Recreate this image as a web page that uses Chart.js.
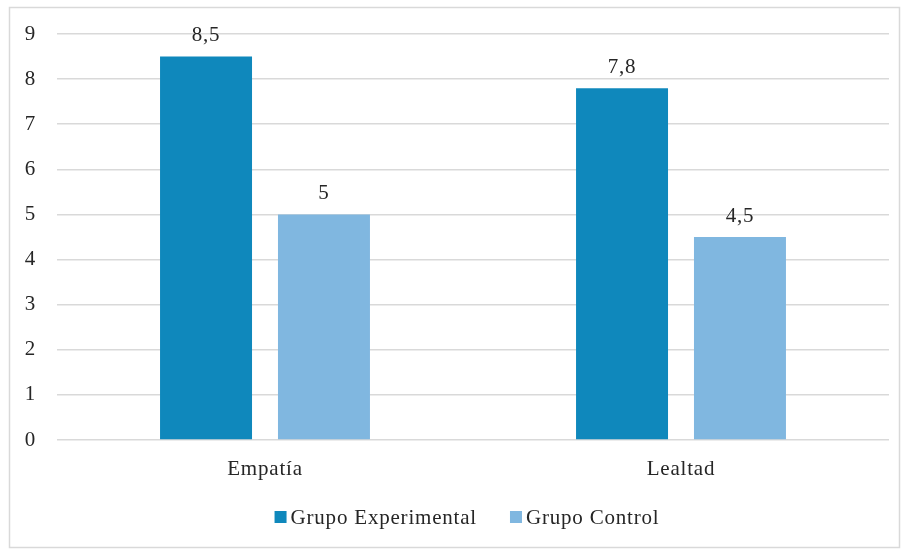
<!DOCTYPE html>
<html>
<head>
<meta charset="utf-8">
<script src="https://cdn.jsdelivr.net/npm/chart.js@4/dist/chart.umd.min.js"></script>
<style>
  html, body { margin: 0; padding: 0; background: #ffffff; }
  #wrap { position: relative; width: 904px; height: 550px; }
</style>
</head>
<body>
<div id="wrap"><canvas id="c" width="904" height="550"></canvas></div>
<script>
// Scores per dimension for each group
const categories = ['Empatía', 'Lealtad'];
const experimental = [8.5, 7.8];
const control = [5, 4.5];
const seriesNames = ['Grupo Experimental', 'Grupo Control'];
const yTicks = [0, 1, 2, 3, 4, 5, 6, 7, 8, 9];

const FONT = "'Liberation Serif', 'Times New Roman', serif";
const FONT_SIZE = 21;
const TEXT = '#262626';
const SPACING = '0.8px';

// Thin light frame around the whole figure; slightly open letter spacing for all text
const framePlugin = {
  id: 'frame',
  beforeDraw(chart) {
    const ctx = chart.ctx;
    ctx.save();
    ctx.fillStyle = '#ffffff';
    ctx.fillRect(0, 0, chart.width, chart.height);
    ctx.strokeStyle = '#d9d9d9';
    ctx.lineWidth = 1.5;
    ctx.strokeRect(9.5, 7.5, 890, 540);
    ctx.restore();
    ctx.letterSpacing = SPACING;
  }
};

// Value labels above each bar, with decimal comma
const valueLabels = {
  id: 'valueLabels',
  afterDatasetsDraw(chart) {
    const ctx = chart.ctx;
    ctx.save();
    ctx.font = FONT_SIZE + 'px ' + FONT;
    ctx.fillStyle = TEXT;
    ctx.textAlign = 'center';
    ctx.textBaseline = 'middle';
    chart.data.datasets.forEach((ds, i) => {
      chart.getDatasetMeta(i).data.forEach((bar, j) => {
        const txt = String(ds.data[j]).replace('.', ',');
        ctx.fillText(txt, bar.x, bar.y - 21);
      });
    });
    ctx.restore();
  }
};

// Compact legend row centred under the plot: small square + name
const bottomLegend = {
  id: 'bottomLegend',
  afterDraw(chart) {
    const ctx = chart.ctx;
    const box = 12, gap = 4, itemGap = 33;
    const y = 517;
    ctx.save();
    ctx.letterSpacing = SPACING;
    ctx.font = FONT_SIZE + 'px ' + FONT;
    const items = chart.data.datasets.map(ds => ({
      label: ds.label, color: ds.backgroundColor,
      w: ctx.measureText(ds.label).width
    }));
    const total = items.reduce((s, it) => s + box + gap + it.w, 0) + itemGap * (items.length - 1);
    let x = 467 - total / 2;
    ctx.textBaseline = 'middle';
    ctx.textAlign = 'left';
    items.forEach(it => {
      ctx.fillStyle = it.color;
      ctx.fillRect(x, y - box / 2, box, box);
      x += box + gap;
      ctx.fillStyle = TEXT;
      ctx.fillText(it.label, x, y + 1);
      x += it.w + itemGap;
    });
    ctx.restore();
  }
};

new Chart(document.getElementById('c'), {
  type: 'bar',
  data: {
    labels: categories,
    datasets: [
      { label: seriesNames[0], data: experimental, backgroundColor: '#0f88bc',
        categoryPercentage: 0.567, barPercentage: 0.78 },
      { label: seriesNames[1], data: control, backgroundColor: '#80b7e0',
        categoryPercentage: 0.567, barPercentage: 0.78 }
    ]
  },
  options: {
    responsive: false,
    animation: false,
    layout: { padding: { top: 34, right: 15, bottom: 51, left: 0 } },
    scales: {
      y: {
        min: 0, max: 9,
        afterBuildTicks(scale) { scale.ticks = yTicks.map(v => ({ value: v })); },
        afterFit(scale) { scale.width = 57; },
        ticks: { padding: 21, color: TEXT, font: { family: FONT, size: FONT_SIZE } },
        grid: { color: '#d9d9d9', lineWidth: 1.5, drawTicks: false },
        border: { display: false }
      },
      x: {
        afterFit(scale) { scale.height = 59; },
        ticks: { padding: 17, color: TEXT, font: { family: FONT, size: FONT_SIZE } },
        grid: { display: false, drawTicks: false },
        border: { display: false }
      }
    },
    plugins: {
      legend: { display: false },
      tooltip: { enabled: false }
    }
  },
  plugins: [framePlugin, valueLabels, bottomLegend]
});
</script>
</body>
</html>
